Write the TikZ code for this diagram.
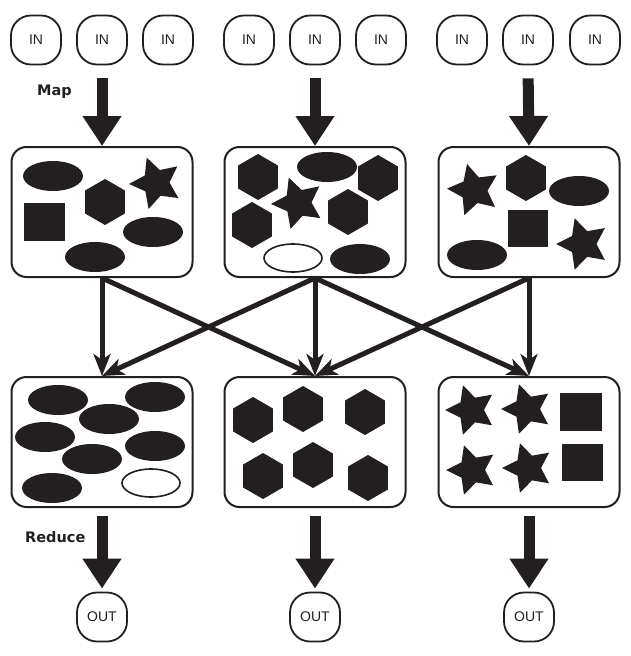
\documentclass[tikz,border=0pt]{standalone}
\usepackage{fontspec}
\setmainfont{Liberation Sans}
\newfontfamily\labelfont{DejaVu Sans}
\usetikzlibrary{arrows.meta}
\definecolor{ink}{HTML}{231F20}
\newcommand\hexa[2]{\fill[ink] (#1,#2) +(90:23) -- +(150:23) -- +(210:23) -- +(270:23) -- +(330:23) -- +(30:23) -- cycle;}
\newcommand\fivestar[4]{\fill[ink] (#1,#2)
  +(-90-#3:#4) -- +(-54-#3:0.5*#4) -- +(-18-#3:#4) -- +(18-#3:0.5*#4) -- +(54-#3:#4) -- +(90-#3:0.5*#4)
  -- +(126-#3:#4) -- +(162-#3:0.5*#4) -- +(198-#3:#4) -- +(234-#3:0.5*#4) -- cycle;}
\newcommand\ovalshape[2]{\fill[ink] (#1,#2) ellipse [x radius=30, y radius=15];}
\newcommand\hollow[2]{\draw[ink,line width=1.6pt] (#1,#2) ellipse [x radius=29, y radius=14];}
\newcommand\sq[4]{\fill[ink] (#1,#2) rectangle (#3,#4);}
\begin{document}
\begin{tikzpicture}[x=1pt,y=-1pt,
  io/.style={draw=ink, line width=1.8pt, rounded corners=20pt, minimum width=50pt, minimum height=49pt, inner sep=0pt, font=\fontsize{14}{16}\selectfont, text=ink},
  box/.style={draw=ink, line width=2pt, rounded corners=15pt, minimum width=181pt, minimum height=130pt, inner sep=0pt},
  bigarrow/.style={draw=ink, line width=11pt, -{Triangle[width=37pt,length=30pt]}},
  xarrow/.style={draw=ink, line width=5pt, -{Stealth[width=17pt,length=22pt,inset=6pt]}},
  lab/.style={font=\labelfont\bfseries\fontsize{14.5}{16}\selectfont, text=ink, inner sep=0pt}]
\useasboundingbox (0,0) rectangle (630,656);
% inputs
\node[io] (in1) at (36,40) {IN};
\node[io] (in2) at (102,40) {IN};
\node[io] (in3) at (168,40) {IN};
\node[io] (in4) at (249,40) {IN};
\node[io] (in5) at (315,40) {IN};
\node[io] (in6) at (381,40) {IN};
\node[io] (in7) at (462,40) {IN};
\node[io] (in8) at (528,40) {IN};
\node[io] (in9) at (595,40) {IN};
% map boxes
\node[box] (m1) at (102,212) {};
\node[box] (m2) at (315,212) {};
\node[box] (m3) at (529,212) {};
% reduce boxes
\node[box] (r1) at (102,442) {};
\node[box] (r2) at (315,442) {};
\node[box] (r3) at (529,442) {};
% outputs
\node[io] (o1) at (102,617) {OUT};
\node[io] (o2) at (315,617) {OUT};
\node[io] (o3) at (529,617) {OUT};
% labels
\node[lab, anchor=base west] (maplab) at (37,95) {Map};
\node[lab, anchor=base west] (redlab) at (25,542) {Reduce};
% map arrows
\draw[bigarrow, shorten <=13pt] (in2.south) -- (m1.north);
\draw[bigarrow, shorten <=13pt] (in5.south) -- (m2.north);
\draw[bigarrow, shorten <=13pt] (in8.south) -- (m3.north);
% shuffle arrows
\draw[xarrow] (m1.south) -- (r1.north);
\draw[xarrow] (m1.south) -- (r2.north);
\draw[xarrow] (m2.south) -- (r1.north);
\draw[xarrow] (m2.south) -- (r2.north);
\draw[xarrow] (m2.south) -- (r3.north);
\draw[xarrow] (m3.south) -- (r2.north);
\draw[xarrow] (m3.south) -- (r3.north);
% reduce arrows
\draw[bigarrow, shorten <=8pt, shorten >=3pt] (r1.south) -- (o1.north);
\draw[bigarrow, shorten <=8pt, shorten >=3pt] (r2.south) -- (o2.north);
\draw[bigarrow, shorten <=8pt, shorten >=3pt] (r3.south) -- (o3.north);
% map box 1 contents
\ovalshape{53}{176}
\hexa{105}{202}
\fivestar{156}{183}{20}{27}
\sq{24}{203}{65}{241}
\ovalshape{153}{232}
\ovalshape{95}{257}
% map box 2 contents
\hexa{258}{177}
\ovalshape{327}{167}
\hexa{378}{178}
\fivestar{298}{203}{20}{27}
\hexa{348}{212}
\hexa{252}{225}
\hollow{293}{258}
\ovalshape{360}{259}
% map box 3 contents
\fivestar{474}{190}{15}{27}
\hexa{526}{178}
\ovalshape{579}{191}
\sq{508}{210}{548}{247}
\fivestar{583}{244}{18}{27}
\ovalshape{477}{255}
% reduce box 1 contents
\ovalshape{58}{400}
\ovalshape{155}{397}
\ovalshape{109}{419}
\ovalshape{45}{437}
\ovalshape{155}{446}
\ovalshape{92}{459}
\ovalshape{52}{488}
\hollow{151}{483}
% reduce box 2 contents
\hexa{253}{420}
\hexa{303}{409}
\hexa{365}{412}
\hexa{263}{476}
\hexa{313}{465}
\hexa{368}{478}
% reduce box 3 contents
\fivestar{471}{410}{18}{26}
\fivestar{527}{409}{18}{26}
\sq{560}{393}{602}{431}
\fivestar{472}{470}{18}{26}
\fivestar{528}{468}{18}{26}
\sq{562}{444}{603}{481}
\end{tikzpicture}
\end{document}
